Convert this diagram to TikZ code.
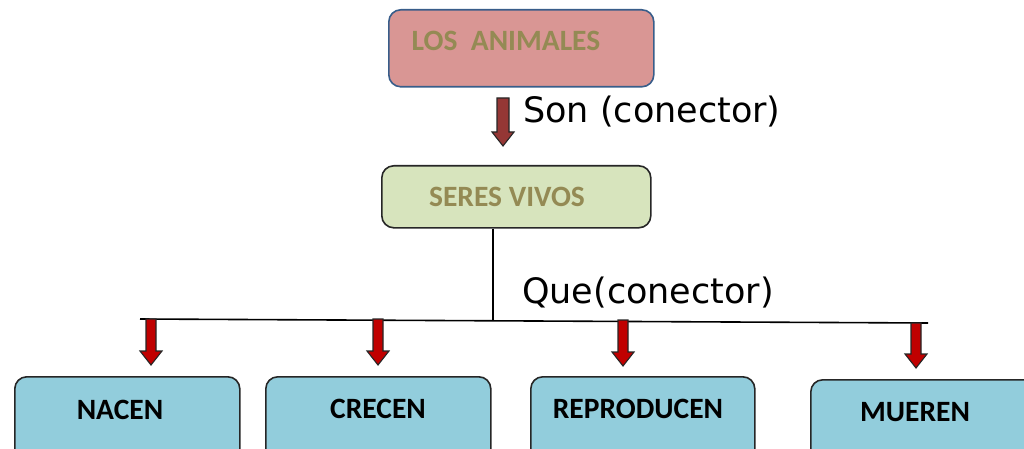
\documentclass[tikz,border=0pt]{standalone}
\usepackage{fontspec}
\setmainfont{Carlito}
\newfontfamily\comicfont{DejaVu Sans}
\definecolor{boxpink}{HTML}{D99694}
\definecolor{boxgreen}{HTML}{D7E4BD}
\definecolor{boxblue}{HTML}{92CDDC}
\definecolor{olivetxt}{HTML}{948A54}
\definecolor{bluebord}{HTML}{385D8A}
\definecolor{darkred}{HTML}{953735}
\definecolor{brightred}{HTML}{C00000}
\begin{document}
\begin{tikzpicture}[x=1pt,y=-1pt,
  box/.style={draw, line width=1.6pt, rounded corners=12pt, inner sep=0pt, anchor=north west},
  boxtext/.style={font=\fontsize{29.5}{31}\selectfont\bfseries, inner sep=0pt},
  contxt/.style={font=\comicfont\fontsize{35}{38}\selectfont, inner sep=0pt, anchor=base west},
  pics/barrow/.style n args={3}{code={
    \draw[line width=1.1pt, fill=#1, draw=black!85]
      (-#3,0) -- (#3,0) -- (#3,#2-14) -- (11,#2-14) -- (0,#2) -- (-11,#2-14) -- (-#3,#2-14) -- cycle;}}
]
\useasboundingbox (0,0) rectangle (1024,449);
\clip (0,0) rectangle (1024,449);

% top box
\node[box, fill=boxpink, draw=bluebord, minimum width=265pt, minimum height=77pt] (animales) at (388,9) {};
\node[boxtext, text=olivetxt] (animalesT) at (506,41) {LOS\ \ ANIMALES};

\coordinate (a1) at (503,98);
\pic at (a1) {barrow={darkred}{48}{6}};
\node[contxt] (son) at (523,123) {Son (conector)};

% middle box
\node[box, fill=boxgreen, draw=black!85, minimum width=269pt, minimum height=62pt] (vivos) at (381,165) {};
\node[boxtext, text=olivetxt] (vivosT) at (507,197) {SERES VIVOS};

\coordinate (hl) at (140,319);
\coordinate (hr) at (928,323);
\coordinate (hj) at (493,321);
\draw[line width=1.6pt] (vivos.south -| hj) -- (hj);
\draw[line width=1.6pt] (hl) -- (hr);
\node[contxt] (que) at (522,303) {Que(conector)};

% bottom boxes
\node[box, fill=boxblue, draw=black!85, minimum width=225pt, minimum height=100pt] (nacen) at (14,376) {};
\node[box, fill=boxblue, draw=black!85, minimum width=225pt, minimum height=100pt] (crecen) at (265,376) {};
\node[box, fill=boxblue, draw=black!85, minimum width=224pt, minimum height=100pt] (repro) at (530,376) {};
\node[box, fill=boxblue, draw=black!85, minimum width=230pt, minimum height=100pt] (mueren) at (810,379) {};
\node[boxtext] (nacenT) at (120,410) {NACEN};
\node[boxtext] (crecenT) at (378,409) {CRECEN};
\node[boxtext] (reproT) at (638,409) {REPRODUCEN};
\node[boxtext] (muerenT) at (915,412) {MUEREN};

% red arrows
\coordinate (r1) at (151,319);
\coordinate (r2) at (378,319);
\coordinate (r3) at (623,320);
\coordinate (r4) at (916,323);
\pic at (r1) {barrow={brightred}{46}{5}};
\pic at (r2) {barrow={brightred}{46}{5}};
\pic at (r3) {barrow={brightred}{46}{5}};
\pic at (r4) {barrow={brightred}{45}{5}};
\end{tikzpicture}
\end{document}
